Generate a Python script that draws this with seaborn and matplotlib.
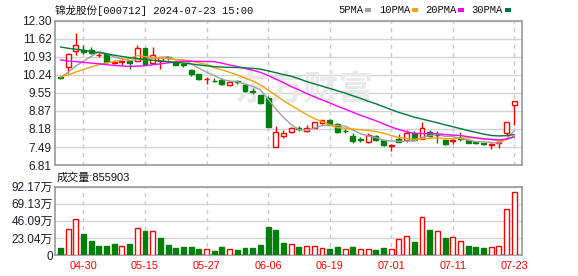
import numpy as np
import pandas as pd
import matplotlib
matplotlib.use("Agg")
import matplotlib.pyplot as plt
import seaborn as sns
from matplotlib.patches import Rectangle

# ---------------- data ----------------
dates = ["04-25","04-26","04-29","04-30","05-06","05-07","05-08","05-09","05-10","05-13",
         "05-14","05-15","05-16","05-17","05-20","05-21","05-22","05-23","05-24","05-27",
         "05-28","05-29","05-30","05-31","06-03","06-04","06-05","06-06","06-07","06-11",
         "06-12","06-13","06-14","06-17","06-18","06-19","06-20","06-21","06-24","06-25",
         "06-26","06-27","06-28","07-01","07-02","07-03","07-04","07-05","07-08","07-09",
         "07-10","07-11","07-12","07-15","07-16","07-17","07-18","07-19","07-22","07-23"]

open_ = [10.15,10.55,11.15,11.19,11.19,10.98,11.02,10.69,10.74,10.78,
         10.77,11.27,10.70,10.78,10.90,10.73,10.65,10.44,10.26,10.07,
         10.02,10.04,9.86,9.99,9.84,9.62,9.46,9.37,7.50,7.93,
         8.06,8.20,8.12,8.22,8.40,8.54,8.37,8.11,7.91,7.80,
         7.69,7.90,7.75,7.55,7.80,7.75,8.02,7.81,8.06,7.97,
         7.75,7.74,7.82,7.75,7.67,7.63,7.56,7.66,8.03,9.09]
high = [10.16,11.06,11.84,11.37,11.30,11.08,11.03,10.82,10.82,10.80,
        11.36,11.28,11.31,10.92,10.95,10.75,10.68,10.46,10.28,10.17,
        10.12,10.12,9.99,10.05,9.86,9.75,9.47,9.43,8.31,8.16,
        8.25,8.28,8.32,8.46,8.54,8.56,8.40,8.17,8.02,7.88,
        8.02,7.97,7.77,7.59,7.99,8.15,8.09,8.44,8.13,8.09,
        7.80,7.80,8.05,7.77,7.70,7.66,7.63,7.72,8.45,9.26]
low = [10.10,10.30,11.00,11.02,11.02,10.92,10.70,10.66,10.62,10.46,
       10.75,10.62,10.68,10.47,10.80,10.60,10.52,10.19,10.06,9.88,
       9.95,9.85,9.83,9.90,9.60,9.50,9.14,8.26,7.50,7.83,
       8.02,8.10,8.05,8.20,8.36,8.33,8.04,8.04,7.66,7.70,
       7.66,7.72,7.54,7.33,7.68,7.68,7.75,7.79,7.88,7.66,
       7.56,7.62,7.73,7.64,7.62,7.57,7.43,7.46,7.93,8.35]
close = [10.12,11.05,11.37,11.10,11.07,11.00,10.72,10.71,10.78,10.70,
         11.25,10.64,11.00,10.90,10.87,10.63,10.62,10.27,10.08,10.10,
         9.99,9.88,9.98,9.96,9.63,9.58,9.16,8.27,8.06,8.03,
         8.22,8.17,8.20,8.44,8.51,8.35,8.06,8.09,7.72,7.77,
         7.94,7.76,7.56,7.58,7.70,8.02,7.77,8.22,7.93,7.95,
         7.62,7.77,7.79,7.66,7.65,7.60,7.62,7.68,8.44,9.26]
# closes of the 29 sessions before the window (estimated from the MA lines' start)
prior_close = [12.50,12.42,12.35,12.40,12.30,12.25,12.18,12.20,12.12,12.08,
               11.95,11.80,11.70,11.60,11.50,11.40,11.30,11.20,11.05,11.00,
               10.40,10.25,10.15,10.10,10.10,10.05,10.20,10.18,10.15]
# volume in 万 shares
volume = [9.85,35.1,48.6,28.3,18.9,12.1,12.1,14.8,12.1,14.8,
          36.4,32.4,32.4,23.4,13.5,9.85,10.8,10.8,8.5,8.1,
          5.4,10.8,8.1,6.7,9.4,9.4,13.5,37.8,33.7,16.2,
          14.8,10.8,11.7,11.7,9.0,8.1,10.8,7.7,10.8,7.7,
          7.7,6.7,9.4,7.7,21.2,25.2,17.5,50.9,33.7,32.0,
          22.9,23.9,18.5,12.1,10.8,9.4,10.4,11.7,61.7,85.5903]

price_ticks = ["12.30","11.62","10.93","10.24","9.55","8.87","8.18","7.49","6.81"]
vol_ticks = ["0","23.04万","46.09万","69.13万","92.17万"]
date_ticks = ["04-30","05-15","05-27","06-06","06-19","07-01","07-11","07-23"]
ma_names = ["5PMA","10PMA","20PMA","30PMA"]
ma_windows = [5,10,20,30]

title = "锦龙股份[000712] 2024-07-23 15:00"
vol_title = "成交量:855903"

# ---------------- style ----------------
RED = "#ff0000"
GREEN = "#00800a"
ma_colors = ["#a0a0a0", "#f5a300", "#ff00ff", "#00773a"]
GRID = "#d2d2d2"
FRAME = "#9a9a9a"
LABEL = "#1c1c2c"

sns.set_style("white")
plt.rcParams["font.family"] = ["Liberation Sans", "Noto Sans CJK SC"]

W, H = 578, 276
fig = plt.figure(figsize=(W / 100, H / 100), dpi=100)

def fx(px):
    return px / W

def fy(py):
    return 1 - py / H

ax1 = fig.add_axes([fx(55), fy(165), fx(522) - fx(55), fy(20.7) - fy(165)])
ax2 = fig.add_axes([fx(55), fy(255), fx(522) - fx(55), fy(186.7) - fy(255)])

n = len(close)
x = np.arange(n)
o = np.array(open_); c = np.array(close); h = np.array(high); l = np.array(low)
up = c >= o

# moving averages
full_close = pd.Series(prior_close + close)
for name, win, col in zip(ma_names, ma_windows, ma_colors):
    ma = full_close.rolling(win).mean().to_numpy()[-n:]
    sns.lineplot(x=x, y=ma, ax=ax1, color=col, linewidth=1.0, zorder=5)

# candles
body_w = 0.64
ax1.vlines(x, l, h, colors=np.where(up, RED, GREEN), linewidth=1.0, zorder=3)
bottoms = np.minimum(o, c)
heights = np.maximum(np.abs(c - o), 0.004)
ax1.bar(x, heights, bottom=bottoms, width=body_w,
        color=np.where(up, "white", GREEN), edgecolor=np.where(up, RED, GREEN),
        linewidth=1.0, zorder=4)

# volume bars (colour vs previous close)
prev_c = np.array([prior_close[-1]] + close[:-1])
vup = c >= prev_c
ax2.bar(x, volume, width=body_w, color=np.where(vup, "white", GREEN),
        edgecolor=np.where(vup, RED, GREEN), linewidth=1.0, zorder=3)

# axes styling
tick_pos = [dates.index(d) for d in date_ticks]
for ax in (ax1, ax2):
    ax.set_xlim(-0.7, 60.0)
    ax.set_xticks(tick_pos)
    ax.grid(axis="x", color="#c8c8c8", linestyle=(0, (3, 3)), linewidth=1.0, zorder=0)
    ax.grid(axis="y", color=GRID, linestyle="-", linewidth=1.0, zorder=0)
    for s in ax.spines.values():
        s.set_color(FRAME)
        s.set_linewidth(1.2)
    ax.tick_params(length=0)
    ax.set_xlabel("")
    ax.set_ylabel("")
    ax.set_axisbelow(True)

ax1.set_ylim(float(price_ticks[-1]), float(price_ticks[0]))
ax1.set_yticks([float(t) for t in price_ticks])
ax1.set_yticklabels(price_ticks, fontsize=8.5, color=LABEL)
ax1.tick_params(axis="y", pad=2.5)
ax1.set_xticklabels([])

ax2.set_ylim(0, 92.17)
ax2.set_yticks([0, 23.04, 46.09, 69.13, 92.17])
ax2.set_yticklabels(vol_ticks, fontsize=8.5, color=LABEL)
ax2.tick_params(axis="y", pad=1.5)
ax2.set_xticklabels(date_ticks, fontsize=7.8, color=RED)
ax2.tick_params(axis="x", pad=4)

# watermark
ax1.text(0.535, 0.53, "东方财富", transform=ax1.transAxes, ha="center", va="center",
         fontsize=25, fontweight="bold", color="#e9e9e9", zorder=1,
         family=["Noto Sans CJK SC"])

# header texts
mono = ["Liberation Mono", "Noto Sans CJK SC"]
fig.text(fx(55), fy(10), title, ha="left", va="center", fontsize=7.6, color="#111111",
         family=mono)
leg_x = [338, 379, 425, 471]
sq_x = [365, 412, 458, 504.5]
for name, col, tx, sx in zip(ma_names, ma_colors, leg_x, sq_x):
    fig.text(fx(tx), fy(10), name, ha="left", va="center", fontsize=7.6,
             color="#111111", family=mono)
    fig.add_artist(Rectangle((fx(sx), fy(12)), fx(6), 4 / H, transform=fig.transFigure,
                             color=col, linewidth=0))

fig.text(fx(57), fy(177.5), vol_title, ha="left", va="center", fontsize=8,
         color="#111111", family=["Liberation Sans", "Noto Sans CJK SC"])

fig.savefig("out.png", dpi=100)
